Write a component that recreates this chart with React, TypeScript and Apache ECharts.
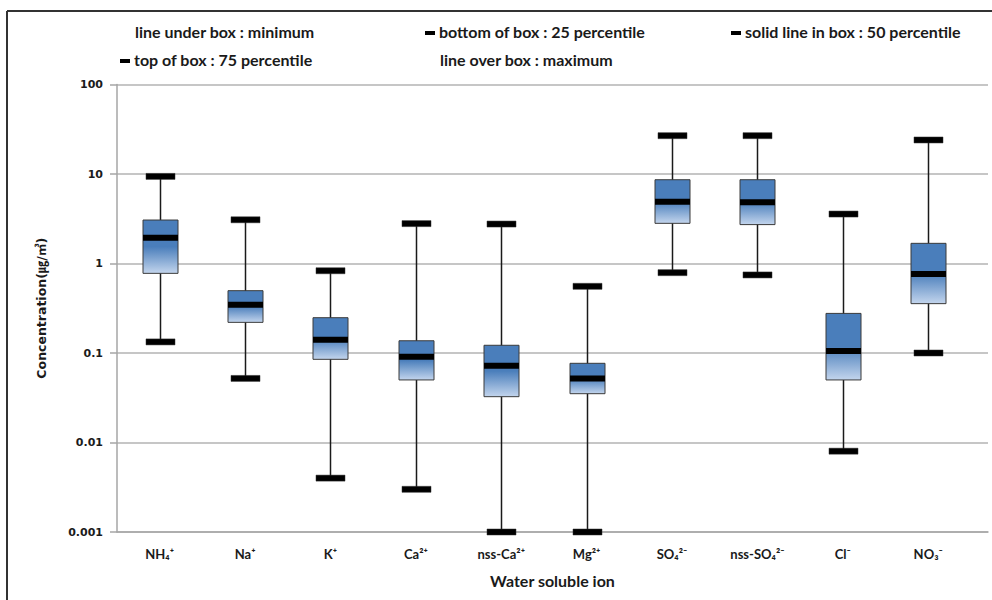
import React, { useEffect, useRef } from "react";
import * as echarts from "echarts";

const categories = ["NH₄⁺", "Na⁺", "K⁺", "Ca²⁺", "nss-Ca²⁺", "Mg²⁺", "SO₄²⁻", "nss-SO₄²⁻", "Cl⁻", "NO₃⁻"];
const minValues = [0.133, 0.052, 0.004, 0.003, 0.001, 0.001, 0.79, 0.745, 0.008, 0.1];
const q1Values = [0.776, 0.22, 0.085, 0.05, 0.0325, 0.0351, 2.81, 2.72, 0.05, 0.356];
const medianValues = [1.94, 0.347, 0.141, 0.091, 0.072, 0.052, 4.9, 4.82, 0.105, 0.764];
const q3Values = [3.06, 0.497, 0.248, 0.137, 0.122, 0.0767, 8.63, 8.63, 0.277, 1.68];
const maxValues = [9.4, 3.08, 0.83, 2.79, 2.76, 0.556, 26.8, 26.8, 3.57, 24.0];
const yTickLabels = ["0.001", "0.01", "0.1", "1", "10", "100"];

const legendRow1 = ["line under box : minimum", "bottom of box : 25 percentile", "solid line in box : 50 percentile"];
const legendRow2 = ["top of box : 75 percentile", "line over box : maximum"];

const FONT = 'Lato, "Noto Sans", sans-serif';

export default function App() {
  const ref = useRef<HTMLDivElement>(null);
  useEffect(() => {
    if (!ref.current) return;
    const chart = echarts.init(ref.current, null, { renderer: "svg" });
    const data = categories.map((_, i) => [
      i + 0.5,
      minValues[i],
      q1Values[i],
      medianValues[i],
      q3Values[i],
      maxValues[i],
    ]);
    const boxW = 35;
    const capW = 29;
    const barH = 6;
    const renderItem = (params: any, api: any) => {
      const x = api.value(0);
      const pMin = api.coord([x, api.value(1)]);
      const pQ1 = api.coord([x, api.value(2)]);
      const pMed = api.coord([x, api.value(3)]);
      const pQ3 = api.coord([x, api.value(4)]);
      const pMax = api.coord([x, api.value(5)]);
      const cx = Math.round(pMin[0]) + 0.5;
      return {
        type: "group",
        children: [
          {
            type: "line",
            shape: { x1: cx, y1: pMin[1], x2: cx, y2: pMax[1] },
            style: { stroke: "#1a1a1a", lineWidth: 1.5 },
          },
          {
            type: "rect",
            shape: { x: cx - boxW / 2, y: pQ3[1], width: boxW, height: pQ1[1] - pQ3[1] },
            style: {
              fill: new echarts.graphic.LinearGradient(0, 0, 0, 1, [
                { offset: 0, color: "#4a7ebb" },
                { offset: 0.5, color: "#4a7ebb" },
                { offset: 1, color: "#c3d5ed" },
              ]),
              stroke: "#3a3a3a",
              lineWidth: 1,
            },
          },
          {
            type: "rect",
            shape: { x: cx - boxW / 2, y: pMed[1] - barH / 2, width: boxW, height: barH },
            style: { fill: "#000" },
          },
          {
            type: "rect",
            shape: { x: cx - capW / 2, y: pMax[1] - barH / 2, width: capW, height: barH },
            style: { fill: "#000", stroke: "#333", lineWidth: 0.5 },
          },
          {
            type: "rect",
            shape: { x: cx - capW / 2, y: pMin[1] - barH / 2, width: capW, height: barH },
            style: { fill: "#000", stroke: "#333", lineWidth: 0.5 },
          },
        ],
      };
    };

    const legendText = (text: string, x: number, y: number) => ({
      type: "text",
      left: x,
      top: y - 10,
      style: { text, font: `bold 16px ${FONT}`, fill: "#1a1a1a" },
    });
    const legendBar = (x: number, y: number) => ({
      type: "rect",
      shape: { x, y: y - 2, width: 10, height: 4 },
      style: { fill: "#000" },
    });

    chart.setOption({
      animation: false,
      backgroundColor: "#fff",
      grid: { left: 117, right: 4, top: 84.5, bottom: 68, containLabel: false },
      xAxis: {
        type: "value",
        min: 0,
        max: 10.2,
        interval: 0.5,
        axisLine: { show: true, lineStyle: { color: "#a6a6a6", width: 1.5 } },
        axisTick: { show: false },
        splitLine: { show: false },
        axisLabel: {
          margin: 15,
          fontFamily: FONT,
          fontWeight: "bold",
          fontSize: 13,
          color: "#1a1a1a",
          showMinLabel: true,
          showMaxLabel: true,
          formatter: (v: number) => {
            const i = v - 0.5;
            const r = Math.round(i);
            if (Math.abs(i - r) < 1e-6 && r >= 0 && r < categories.length) return categories[r];
            return "";
          },
        },
        name: "Water soluble ion",
        nameLocation: "middle",
        nameGap: 40,
        nameTextStyle: { fontFamily: FONT, fontWeight: "bold", fontSize: 16, color: "#1a1a1a" },
      },
      yAxis: {
        type: "log",
        logBase: 10,
        min: 0.001,
        max: 100,
        axisLine: { show: true, lineStyle: { color: "#a6a6a6", width: 1.5 } },
        axisTick: { show: true, inside: false, length: 7, lineStyle: { color: "#a6a6a6", width: 1.5 } },
        splitLine: { show: true, lineStyle: { color: "#b3b3b3", width: 1.5 } },
        axisLabel: {
          margin: 14,
          fontFamily: '"DejaVu Sans", sans-serif',
          fontWeight: "bold",
          fontSize: 11,
          color: "#1b1b1b",
          formatter: (v: number) => {
            const i = Math.round(Math.log10(v)) + 3;
            return yTickLabels[i] ?? "";
          },
        },
        name: "Concentration(㎍/㎥)",
        nameLocation: "middle",
        nameGap: 69,
        nameRotate: 90,
        nameTextStyle: {
          fontFamily: '"DejaVu Sans", "Noto Sans CJK KR", sans-serif',
          fontWeight: "bold",
          fontSize: 12.5,
          color: "#1a1a1a",
        },
      },
      graphic: [
        {
          type: "line",
          shape: { x1: 7, y1: 11, x2: 992, y2: 11 },
          style: { stroke: "#333", lineWidth: 2 },
        },
        {
          type: "line",
          shape: { x1: 7, y1: 11, x2: 7, y2: 600 },
          style: { stroke: "#333", lineWidth: 2 },
        },
        legendText(legendRow1[0], 135, 33),
        legendBar(425, 33),
        legendText(legendRow1[1], 439, 33),
        legendBar(731, 33),
        legendText(legendRow1[2], 745, 33),
        legendBar(120, 61),
        legendText(legendRow2[0], 134, 61),
        legendText(legendRow2[1], 440, 61),
      ],
      series: [
        {
          type: "custom",
          renderItem,
          data,
          encode: { x: 0, y: [1, 2, 3, 4, 5] },
          clip: false,
        },
      ],
    });
    return () => chart.dispose();
  }, []);
  return <div ref={ref} style={{ position: "fixed", left: 0, top: 0, width: 992, height: 600 }} />;
}
